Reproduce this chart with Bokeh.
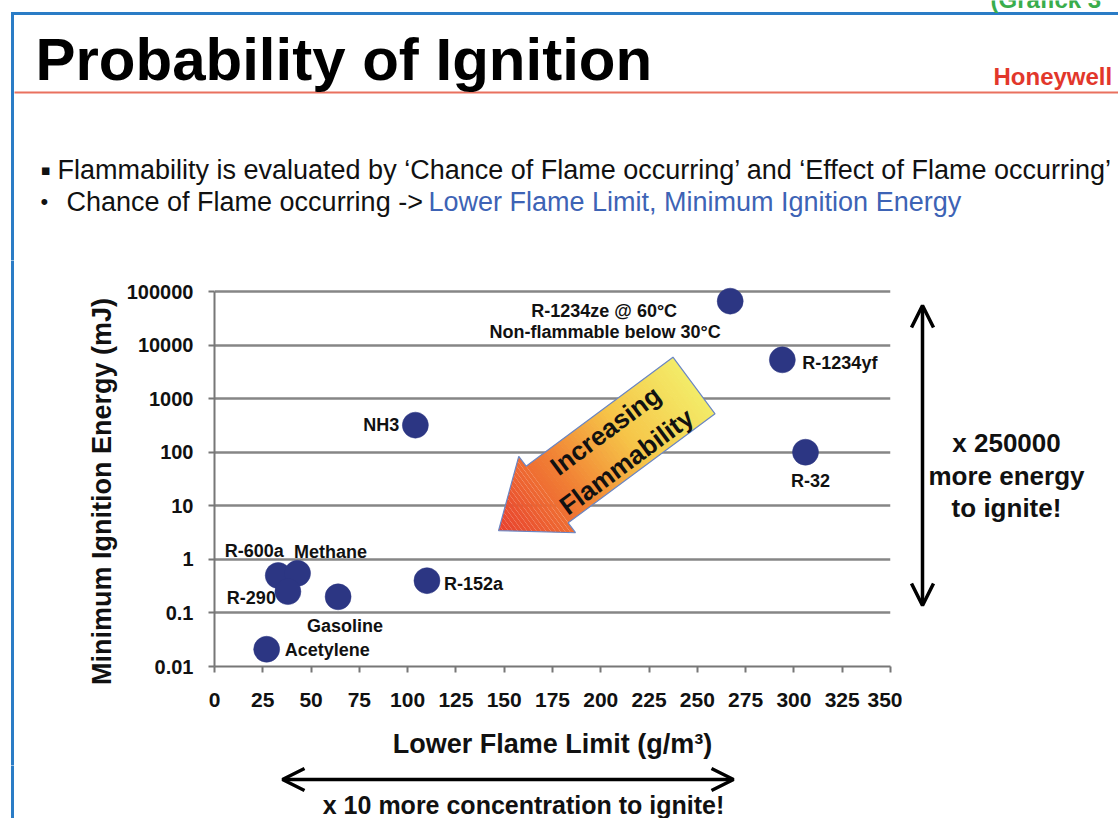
import math
from bokeh.plotting import figure
from bokeh.layouts import column, row
from bokeh.models import Label, Arrow, OpenHead, FixedTicker, ColumnDataSource, Range1d
from bokeh.embed import file_html
from bokeh.resources import INLINE

# ---------------- data ----------------
substances = ["R-1234ze", "R-1234yf", "R-32", "NH3", "R-152a",
              "R-600a", "Methane", "R-290", "Gasoline", "Acetylene"]
lfl_g_m3 = [267, 294, 306, 104, 110, 33, 43, 38, 64, 27]
mie_mj = [66000, 5300, 100, 320, 0.4, 0.5, 0.55, 0.25, 0.2, 0.021]
x_ticks = [0, 25, 50, 75, 100, 125, 150, 175, 200, 225, 250, 275, 300, 325, 350]
y_ticks = [0.01, 0.1, 1, 10, 100, 1000, 10000, 100000]
y_tick_labels = ["0.01", "0.1", "1", "10", "100", "1000", "10000", "100000"]
point_labels = {
    "R-1234yf": "R-1234yf", "R-32": "R-32", "NH3": "NH3", "R-152a": "R-152a",
    "R-600a": "R-600a", "Methane": "Methane", "R-290": "R-290",
    "Gasoline": "Gasoline", "Acetylene": "Acetylene",
}
r1234ze_note = ["R-1234ze @ 60°C", "Non-flammable below 30°C"]
x_title = "Lower Flame Limit (g/m³)"
y_title = "Minimum Ignition Energy (mJ)"

# label placement (screen offsets in px, align)
label_place = {
    "R-1234yf": (20, -3, "left"), "R-32": (5, -29, "center"),
    "NH3": (-16, 0, "right"), "R-152a": (17, -3, "left"),
    "R-600a": (-24, 24, "center"), "Methane": (33, 21, "center"),
    "R-290": (-12, -6, "right"), "Gasoline": (7, -29, "center"),
    "Acetylene": (18, -1, "left"),
}

FONT = "Liberation Sans"
BLUE = "#2a7cc6"
INK = "#111111"

# ---------------- page geometry (page px) ----------------
PAGE_W, PAGE_H = 1118, 818
HEAD_H = 260
CH_X0, CH_X1 = 120, 902
ROW_Y1 = 765
FRAME_L, FRAME_R, FRAME_T, FRAME_B = 214, 890, 286, 666
GRID_TOP = 291  # pixel of 100000


def X(ix):
    return (ix - FRAME_L) * 350.0 / (FRAME_R - FRAME_L)


def Y(iy):
    return 10 ** (-2 + (FRAME_B - iy) * 7.0 / (FRAME_B - GRID_TOP))


def deco(x0, y0, w, h):
    f = figure(width=w, height=h, x_range=Range1d(x0, x0 + w), y_range=Range1d(y0 + h, y0),
               output_backend="svg", toolbar_location=None,
               x_axis_location=None, y_axis_location=None, min_border=0)
    f.grid.visible = False
    f.outline_line_color = None
    f.background_fill_color = "white"
    f.border_fill_color = "white"
    return f


def txt(f, x, y, s, size, bold=False, color=INK, align="left", angle=0.0, font=FONT):
    f.add_layout(Label(x=x, y=y, text=s, text_font=font, text_font_size=size,
                       text_font_style="bold" if bold else "normal", text_color=color,
                       text_align=align, text_baseline="middle", angle=angle))


def vline_blue(f, y0, y1):
    # drawn a little past the strip's edges so the pieces join seamlessly
    f.segment(x0=[12], y0=[y0 - 4], x1=[12], y1=[y1 + 4], line_color=BLUE, line_width=3)


def dbl_arrow(f, xa, ya, xb, yb):
    f.add_layout(Arrow(x_start=xa, y_start=ya, x_end=xb, y_end=yb,
                       start=OpenHead(size=22, line_width=3.5, line_color="black"),
                       end=OpenHead(size=22, line_width=3.5, line_color="black"),
                       line_width=3.5, line_color="black"))


# ---------------- header ----------------
head = deco(0, 0, PAGE_W, HEAD_H)
head.segment(x0=[10.5], y0=[13], x1=[PAGE_W + 5], y1=[13], line_color=BLUE, line_width=3)
head.segment(x0=[12], y0=[11.5], x1=[12], y1=[HEAD_H + 4], line_color=BLUE, line_width=3)
head.segment(x0=[14], y0=[92], x1=[PAGE_W + 5], y1=[92], line_color="#e9715f", line_width=2)
txt(head, 990, -1, "(Grafick 3", "24px", bold=True, color="#3aad4c")
txt(head, 35, 59, "Probability of Ignition", "60px", bold=True, color="#000000")
txt(head, 993, 76, "Honeywell", "24px", bold=True, color="#e2372b")
txt(head, 40, 169, "▪", "15px", font="DejaVu Sans")
txt(head, 57, 169, "Flammability is evaluated by ‘Chance of Flame occurring’ and ‘Effect of Flame occurring’", "27px")
txt(head, 40, 201, "•", "22px")
txt(head, 66, 201, "Chance of Flame occurring ->", "27px")
txt(head, 428, 201, "Lower Flame Limit, Minimum Ignition Energy", "27px", color="#3d63b5")

# ---------------- left strip (y title) ----------------
left = deco(0, HEAD_H, CH_X0, ROW_Y1 - HEAD_H)
vline_blue(left, HEAD_H, ROW_Y1)
txt(left, 101, 491, y_title, "27px", bold=True, align="center", angle=math.pi / 2)

# ---------------- chart ----------------
p = figure(width=CH_X1 - CH_X0, height=ROW_Y1 - HEAD_H,
           x_range=Range1d(0, 350), y_range=Range1d(0.01, Y(FRAME_T)),
           y_axis_type="log", output_backend="svg", toolbar_location=None,
           min_border_left=FRAME_L - CH_X0, min_border_right=CH_X1 - FRAME_R,
           min_border_top=FRAME_T - HEAD_H, min_border_bottom=ROW_Y1 - FRAME_B)
p.outline_line_color = None
p.background_fill_color = "white"
p.border_fill_color = "white"
p.xgrid.visible = False
p.ygrid.grid_line_color = "#868686"
p.ygrid.grid_line_width = 2.5
p.ygrid.ticker = FixedTicker(ticks=y_ticks)

for ax in (p.xaxis, p.yaxis):
    ax.axis_line_color = "#777777"
    ax.axis_line_width = 2
    ax.major_tick_line_color = "#777777"
    ax.major_tick_line_width = 2
    ax.major_tick_in = 0
    ax.major_tick_out = 6
    ax.minor_tick_line_color = None
    ax.major_label_text_color = INK
    ax.major_label_text_font = FONT
    ax.major_label_text_font_style = "bold"

p.xaxis.bounds = (0, 350)
p.xaxis.ticker = FixedTicker(ticks=x_ticks)
p.xaxis.major_label_text_font_size = "21px"
p.xaxis.major_label_standoff = 20
p.xaxis.axis_label = x_title
p.xaxis.axis_label_text_font = FONT
p.xaxis.axis_label_text_font_style = "bold"
p.xaxis.axis_label_text_color = INK
p.xaxis.axis_label_text_font_size = "27px"
p.xaxis.axis_label_standoff = 19

p.yaxis.bounds = (0.01, 100000)
p.yaxis.ticker = FixedTicker(ticks=y_ticks)
p.yaxis.major_label_overrides = {v: s for v, s in zip(y_ticks, y_tick_labels)}
p.yaxis.major_label_text_font_size = "20px"
p.yaxis.major_label_standoff = 15

# gradient block arrow "Increasing Flammability"
back = (693.5, 385.0)
ux, uy = -0.803, 0.596
vx, vy = 0.596, 0.803
L_total, head_len, shaft_w, head_w = 243.4, 60.5, 35.3, 47.6
s_head = L_total - head_len
stops = [(0.0, (243, 236, 104)), (0.35, (246, 196, 72)),
         (0.65, (241, 128, 52)), (1.0, (232, 64, 46))]


def grad(t):
    for (t0, c0), (t1, c1) in zip(stops[:-1], stops[1:]):
        if t0 <= t <= t1:
            fr = (t - t0) / (t1 - t0)
            return "#%02x%02x%02x" % tuple(int(round(a + (b - a) * fr)) for a, b in zip(c0, c1))
    return "#%02x%02x%02x" % stops[-1][1]


def width_at(s, in_head):
    return head_w * (L_total - s) / head_len if in_head else shaft_w


def pt(s, w):
    return (back[0] + s * ux + w * vx, back[1] + s * uy + w * vy)


xs, ys, cols = [], [], []
N1, N2 = 45, 16
segs = [(s_head * i / N1, s_head * (i + 1) / N1, False) for i in range(N1)]
segs += [(s_head + head_len * i / N2, s_head + head_len * (i + 1) / N2, True) for i in range(N2)]
for s0, s1, hd in segs:
    s1e = s1 if hd else min(s1 + 0.6, s_head)
    w0, w1 = width_at(s0, hd), width_at(s1e, hd)
    corners = [pt(s0, -w0), pt(s1e, -w1), pt(s1e, w1), pt(s0, w0)]
    xs.append([X(c[0]) for c in corners])
    ys.append([Y(c[1]) for c in corners])
    cols.append(grad((s0 + s1) / 2 / L_total))
p.patches(xs="xs", ys="ys", fill_color="cols", line_color=None,
          source=ColumnDataSource(dict(xs=xs, ys=ys, cols=cols)))
outline = [pt(0, -shaft_w), pt(s_head, -shaft_w), pt(s_head, -head_w), pt(L_total, 0),
           pt(s_head, head_w), pt(s_head, shaft_w), pt(0, shaft_w)]
p.patch([X(c[0]) for c in outline], [Y(c[1]) for c in outline],
        fill_color=None, line_color="#6a86c4", line_width=1.2)
ang = math.atan2(0.596, 0.803)
for s, (cx, cy) in (("Increasing", (605, 430)), ("Flammability", (626, 461))):
    p.add_layout(Label(x=X(cx), y=Y(cy), text=s, angle=ang, text_align="center",
                       text_baseline="middle", text_font=FONT, text_font_style="bold",
                       text_font_size="26px", text_color=INK))

# points
src = ColumnDataSource(dict(x=lfl_g_m3, y=mie_mj, name=substances))
p.scatter("x", "y", source=src, size=26, fill_color="#2c3683",
          line_color="#2c3683", line_width=0.5)

for name, xv, yv in zip(substances, lfl_g_m3, mie_mj):
    if name in label_place:
        dx, dy, al = label_place[name]
        p.add_layout(Label(x=xv, y=yv, x_offset=dx, y_offset=dy, text=point_labels[name],
                           text_align=al, text_baseline="middle", text_font=FONT,
                           text_font_style="bold", text_font_size="18px", text_color=INK))
i_ze = substances.index("R-1234ze")
for k, (dx, dy) in enumerate([(-126, -10), (-125, -31)]):
    p.add_layout(Label(x=lfl_g_m3[i_ze], y=mie_mj[i_ze], x_offset=dx, y_offset=dy,
                       text=r1234ze_note[k], text_align="center", text_baseline="middle",
                       text_font=FONT, text_font_style="bold", text_font_size="18px",
                       text_color=INK))

# ---------------- right strip ----------------
right = deco(CH_X1, HEAD_H, PAGE_W - CH_X1, ROW_Y1 - HEAD_H)
dbl_arrow(right, 922, 605, 922, 305)
for s, iy in (("x 250000", 442), ("more energy", 475), ("to ignite!", 507)):
    txt(right, 1006, iy, s, "26px", bold=True, align="center")

# ---------------- bottom strip ----------------
bottom = deco(0, ROW_Y1, PAGE_W, PAGE_H - ROW_Y1)
vline_blue(bottom, ROW_Y1, PAGE_H)
dbl_arrow(bottom, 282, 779, 733, 779)
txt(bottom, 523, 804, "x 10 more concentration to ignite!", "25px", bold=True, align="center")

# each plot wrapped on its own so the row does not align their frames
layout = column(head, row(column(left), column(p), column(right)), bottom)
open("out.html", "w").write(file_html(layout, INLINE))
